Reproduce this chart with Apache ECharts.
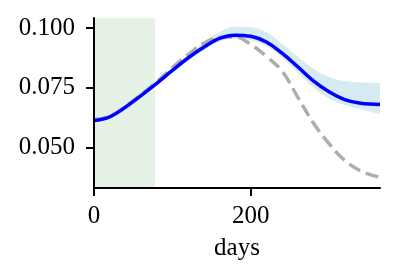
<!DOCTYPE html>
<html>
<head>
<meta charset="utf-8">
<script src="https://cdn.jsdelivr.net/npm/echarts@6/dist/echarts.min.js"></script>
<style>
html,body{margin:0;padding:0;background:#fff;}
#c{width:398px;height:280px;}
</style>
</head>
<body>
<div id="c"></div>
<script>
var days = [0, 20, 40, 60, 80, 100, 120, 140, 160, 180, 200, 220, 240, 260, 280, 300, 320, 340, 365];
var meanFit = [0.0612, 0.0628, 0.0668, 0.0717, 0.0768, 0.0823, 0.0875, 0.0920, 0.0957, 0.0971, 0.0966, 0.0942, 0.0895, 0.0838, 0.0779, 0.0733, 0.0700, 0.0685, 0.0680];
var bandUpper = [0.0618, 0.0634, 0.0674, 0.0723, 0.0775, 0.0832, 0.0888, 0.0940, 0.0983, 0.1006, 0.1004, 0.0983, 0.0935, 0.0880, 0.0830, 0.0795, 0.0778, 0.0772, 0.0771];
var bandLower = [0.0606, 0.0622, 0.0662, 0.0711, 0.0761, 0.0815, 0.0866, 0.0907, 0.0943, 0.0957, 0.0950, 0.0925, 0.0877, 0.0815, 0.0752, 0.0705, 0.0678, 0.0660, 0.0640];
var reference = [0.0617, 0.0631, 0.0671, 0.0721, 0.0775, 0.0835, 0.0889, 0.0937, 0.0961, 0.0963, 0.0932, 0.0882, 0.0820, 0.0711, 0.0602, 0.0515, 0.0445, 0.0401, 0.0374];
var shadedDays = [0, 78];
var xTicks = [0, 200];
var yTicks = [0.050, 0.075, 0.100];
var xRange = [0, 365];
var yRange = [0.0329, 0.1043];

function pairs(xs, ys){ return xs.map(function(x,i){ return [x, ys[i]]; }); }

var font = 'Liberation Serif';
var chart = echarts.init(document.getElementById('c'), null, {renderer:'canvas'});
chart.setOption({
  animation: false,
  grid: {left: 94, right: 18, top: 18, bottom: 92, containLabel: false},
  xAxis: {
    type: 'value', min: xRange[0], max: xRange[1], z: 10,
    name: 'days', nameLocation: 'middle', nameGap: 48,
    nameTextStyle: {fontFamily: font, fontSize: 25, color: '#000'},
    splitLine: {show: false},
    axisLine: {show: true, onZero: false, lineStyle: {color: '#000', width: 2}},
    axisTick: {show: true, length: 8, lineStyle: {color: '#000', width: 2}, customValues: xTicks},
    axisLabel: {fontFamily: font, fontSize: 25, color: '#000', margin: 16, customValues: xTicks}
  },
  yAxis: {
    type: 'value', min: yRange[0], max: yRange[1], z: 10,
    splitLine: {show: false},
    axisLine: {show: true, onZero: false, lineStyle: {color: '#000', width: 2}},
    axisTick: {show: true, length: 8, lineStyle: {color: '#000', width: 2}, customValues: yTicks},
    axisLabel: {fontFamily: font, fontSize: 25, color: '#000', margin: 19, customValues: yTicks,
      formatter: function(v){ return v.toFixed(3); }}
  },
  series: [
    {
      type: 'line', data: pairs(days, bandUpper), smooth: 0.4,
      symbol: 'none', lineStyle: {width: 0, opacity: 0},
      areaStyle: {color: '#d5eaf1', opacity: 1, origin: 'start'}, z: 1
    },
    {
      type: 'line', data: pairs(days, bandLower), smooth: 0.4,
      symbol: 'none', lineStyle: {width: 0, opacity: 0},
      areaStyle: {color: '#ffffff', opacity: 1, origin: 'start'}, z: 2
    },
    {
      type: 'line', data: [], symbol: 'none', z: 3,
      markArea: {silent: true, z: 3, itemStyle: {color: 'rgba(0,128,0,0.1)'},
        data: [[{xAxis: shadedDays[0]}, {xAxis: shadedDays[1]}]]}
    },
    {
      type: 'line', data: pairs(days, reference), smooth: 0.4, symbol: 'none',
      lineStyle: {color: '#aeaeae', width: 3.5, type: [13, 6]}, z: 4
    },
    {
      type: 'line', data: pairs(days, meanFit), smooth: 0.4, symbol: 'none',
      lineStyle: {color: '#0000ff', width: 3.5}, z: 5
    }
  ]
});
</script>
</body>
</html>
